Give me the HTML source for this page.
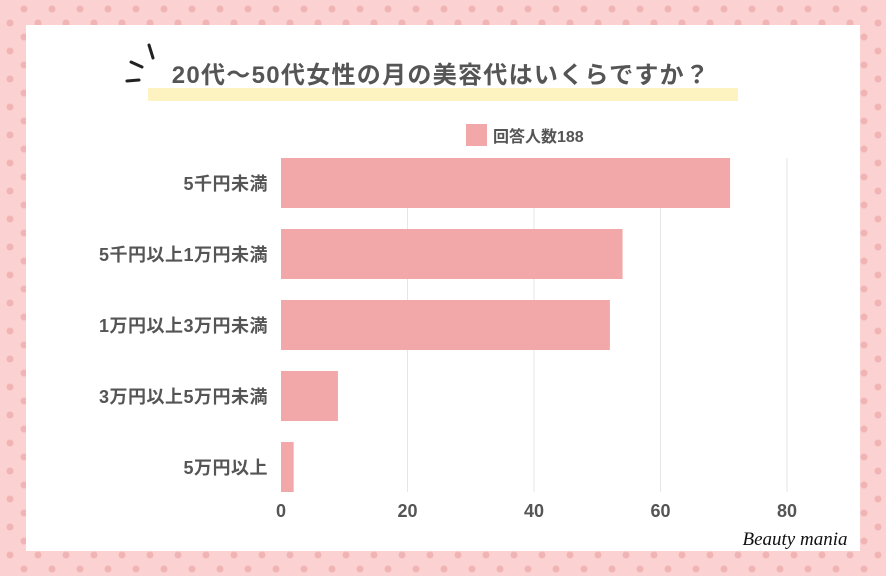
<!DOCTYPE html>
<html><head><meta charset="utf-8"><style>
body{margin:0;width:886px;height:576px;overflow:hidden;font-family:"Liberation Sans","Noto Sans CJK JP",sans-serif;}
</style></head><body>
<svg width="886" height="576">
<defs><pattern id="dots" width="28" height="28" patternUnits="userSpaceOnUse">
<circle cx="24" cy="9" r="3.5" fill="#f0b4b4"/><circle cx="10" cy="23" r="3.5" fill="#f0b4b4"/></pattern></defs>
<rect width="886" height="576" fill="#fbd1d1"/>
<rect width="886" height="576" fill="url(#dots)"/>
<rect x="26" y="25" width="834" height="526" fill="#fff"/>
<g stroke="#222" stroke-width="3" stroke-linecap="round">
<line x1="149" y1="45" x2="153" y2="58"/><line x1="131" y1="62" x2="142" y2="67"/><line x1="127" y1="81" x2="139" y2="80"/></g>
<rect x="148" y="88" width="590" height="13" fill="#fdf3c0"/>
<text x="441" y="83" text-anchor="middle" font-size="24" font-weight="bold" letter-spacing="1.3" fill="#555">20代〜50代女性の月の美容代はいくらですか？</text>
<rect x="466" y="124" width="21" height="22" fill="#f2a8a8"/>
<text x="493" y="142" font-size="16" font-weight="bold" fill="#555">回答人数188</text>
<g id="grid"></g><g id="bars"></g><g id="labels"></g>
<text x="795" y="545" font-size="19" font-style="italic" font-family="Liberation Serif,serif" fill="#111" text-anchor="middle">Beauty mania</text>
</svg>
<script>
const categories=["5千円未満","5千円以上1万円未満","1万円以上3万円未満","3万円以上5万円未満","5万円以上"];
const values=[71,54,52,9,2];
const ticks=[0,20,40,60,80];
const x0=281,sc=(787-281)/80;
const X=v=>x0+v*sc;
const ns="http://www.w3.org/2000/svg";
const g=document.getElementById('grid'),b=document.getElementById('bars'),l=document.getElementById('labels');
ticks.forEach(t=>{
 if(t>0){const ln=document.createElementNS(ns,'line');
 ln.setAttribute('x1',X(t));ln.setAttribute('x2',X(t));ln.setAttribute('y1',158);ln.setAttribute('y2',492);
 ln.setAttribute('stroke','#e6e6e6');
 
 g.appendChild(ln);}
 const tx=document.createElementNS(ns,'text');
 tx.setAttribute('x',X(t));tx.setAttribute('y',517);tx.setAttribute('text-anchor','middle');
 tx.setAttribute('font-size','18');tx.setAttribute('font-weight','bold');tx.setAttribute('fill','#555');
 tx.textContent=t;
 
 l.appendChild(tx);
});
categories.forEach((c,i)=>{
 const y=158+i*71;
 const r=document.createElementNS(ns,'rect');
 r.setAttribute('x',x0);r.setAttribute('y',y);r.setAttribute('width',X(values[i])-x0);r.setAttribute('height',50);
 r.setAttribute('fill','#f2a8a8');
 
 b.appendChild(r);
 const tx=document.createElementNS(ns,'text');
 tx.setAttribute('x',268);tx.setAttribute('y',y+32);tx.setAttribute('text-anchor','end');
 tx.setAttribute('font-size','18');tx.setAttribute('font-weight','bold');tx.setAttribute('letter-spacing','0.5');tx.setAttribute('fill','#555');
 tx.textContent=c;
 
 l.appendChild(tx);
});
</script>
</body></html>
